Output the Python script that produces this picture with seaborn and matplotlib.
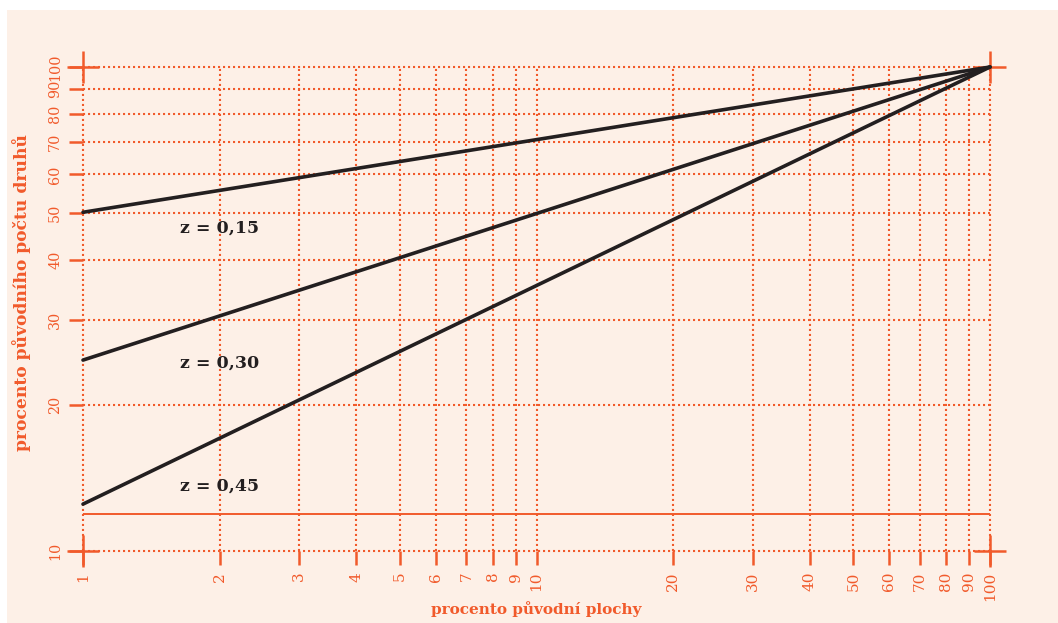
import pandas as pd
import matplotlib.pyplot as plt
import matplotlib.ticker as mticker
from matplotlib.patches import Rectangle
import seaborn as sns

# ------------------------------------------------------------------
# data (log-log, both lines meet at 100 / 100)
# ------------------------------------------------------------------
z_labels = ['z = 0,15', 'z = 0,30', 'z = 0,45']
area_pct = [1, 100]                      # procento původní plochy
species_start = [50.1, 24.8, 12.5]       # value at 1 % of area
species_end = [100, 100, 100]            # value at 100 % of area
label_x = [2, 2, 2]
label_y = [46.5, 24.5, 13.6]
baseline_y = 11.9

x_ticks = [1, 2, 3, 4, 5, 6, 7, 8, 9, 10, 20, 30, 40, 50, 60, 70, 80, 90, 100]
y_ticks = [10, 20, 30, 40, 50, 60, 70, 80, 90, 100]

ORANGE = '#F15A2B'
INK = '#231F20'
BG = '#FDF0E7'

rows = []
for lab, s0, s1 in zip(z_labels, species_start, species_end):
    rows.append({'z': lab, 'area': area_pct[0], 'species': s0})
    rows.append({'z': lab, 'area': area_pct[1], 'species': s1})
df = pd.DataFrame(rows)

# ------------------------------------------------------------------
# figure
# ------------------------------------------------------------------
sns.set_theme(style='white')
plt.rcParams['font.family'] = ['DejaVu Serif', 'DejaVu Sans']

fig = plt.figure(figsize=(10.58, 6.23), dpi=100, facecolor='white')
fig.patches.append(Rectangle((7 / 1058, 0), 1, 1 - 10 / 623, transform=fig.transFigure,
                             facecolor=BG, edgecolor='none', zorder=-10))
ax = fig.add_axes([83 / 1058, 72 / 623, 907 / 1058, 484 / 623])
ax.set_facecolor('none')

ax.set_xscale('log')
ax.set_yscale('log')
ax.set_xlim(1, 100)
ax.set_ylim(10, 100)

sns.lineplot(data=df, x='area', y='species', hue='z', palette=[INK] * 3,
             linewidth=2.6, legend=False, ax=ax, zorder=5, clip_on=False)

# thin solid baseline
ax.plot(area_pct, [baseline_y, baseline_y], color=ORANGE, lw=1.4, zorder=3)

for lab, lx, ly in zip(z_labels, label_x, label_y):
    ax.text(lx, ly, lab, ha='center', va='center', fontsize=12.5,
            fontweight='bold', color=INK, zorder=6)

# ticks, grid
ax.xaxis.set_major_locator(mticker.FixedLocator(x_ticks))
ax.yaxis.set_major_locator(mticker.FixedLocator(y_ticks))
ax.xaxis.set_minor_locator(mticker.NullLocator())
ax.yaxis.set_minor_locator(mticker.NullLocator())
ax.set_xticklabels([str(t) for t in x_ticks], rotation=90)
ax.set_yticklabels([str(t) for t in y_ticks], rotation=90, va='center')
ax.tick_params(axis='both', colors=ORANGE, labelcolor=ORANGE, labelsize=11,
               length=10, width=1.8, direction='out', pad=5,
               bottom=True, left=True, top=False, right=False)
ax.tick_params(axis='y', labelsize=10.3)

ax.grid(True, which='major', color=ORANGE, linestyle=(0, (1, 1.4)), linewidth=1.5)
for gl in ax.get_xgridlines() + ax.get_ygridlines():
    gl.set_clip_on(False)
for sp in ax.spines.values():
    sp.set_visible(False)

# corner crosses
ax.plot([1, 1, 100, 100], [10, 100, 10, 100], linestyle='none', marker='+',
        markersize=23, markeredgewidth=1.8, color=ORANGE, clip_on=False, zorder=4)

ax.set_xlabel('procento původní plochy', color=ORANGE, fontsize=11,
              fontweight='bold', labelpad=0)
ax.set_ylabel('procento původního počtu druhů', color=ORANGE, fontsize=12.3,
              fontweight='bold')
ax.yaxis.set_label_coords(-52 / 907, 0.535)

fig.savefig('out.png', dpi=100, facecolor='white')
